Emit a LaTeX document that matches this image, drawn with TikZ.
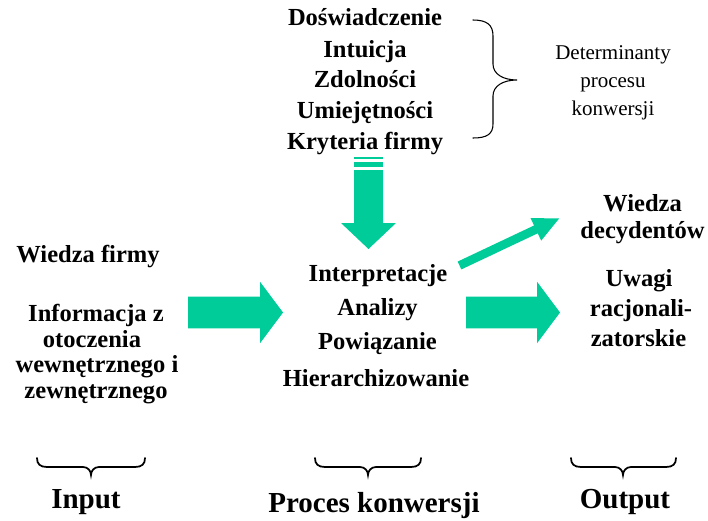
\documentclass[tikz,border=0pt]{standalone}
\usepackage{fontspec}
\setmainfont{Liberation Serif}
\usetikzlibrary{arrows.meta}
\definecolor{flow}{RGB}{0,204,153}
\tikzset{
  bold/.style={font=\fontsize{18.4}{22}\selectfont\bfseries, anchor=base, inner sep=0pt},
  plain/.style={font=\fontsize{15.75}{19}\selectfont, anchor=base, inner sep=0pt},
  caption/.style={font=\fontsize{21.75}{26}\selectfont\bfseries, anchor=base, inner sep=0pt},
  bottom brace/.style={line width=1.3pt, line cap=round},
  side brace/.style={line width=0.8pt, line cap=round},
}
% horizontal brace opening upwards: left end, right end, tip
\newcommand\bracebelow[3]{%
  \draw[bottom brace] (#1,458) .. controls (#1,464) and (#1+3,467) .. (#1+10,467)
    -- (#3-8,467) .. controls (#3-3,467) and (#3,471) .. (#3,475)
    .. controls (#3,471) and (#3+3,467) .. (#3+8,467)
    -- (#2-10,467) .. controls (#2-3,467) and (#2,464) .. (#2,458);}
% block arrow pointing right: tail x, head start x, tip x, axis y
\newcommand\blockarrow[4]{%
  \fill[flow] (#1,#4-15.8) -- (#2,#4-15.8) -- (#2,#4-30.8) -- (#3,#4)
    -- (#2,#4+30.8) -- (#2,#4+15.8) -- (#1,#4+15.8) -- cycle;}
\begin{document}
\begin{tikzpicture}[x=0.75pt,y=-0.75pt]
\useasboundingbox (0,0) rectangle (708,521);

% determinants of the conversion process
\node[bold] (d1) at (365,26) {Doświadczenie};
\node[bold] (d2) at (365,57) {Intuicja};
\node[bold] (d3) at (365,87.5) {Zdolności};
\node[bold] (d4) at (365,118) {Umiejętności};
\node[bold] (d5) at (365,149) {Kryteria firmy};

\draw[side brace] (473,20) .. controls (487,20) and (493,25) .. (493,36)
  -- (493,64) .. controls (493,74) and (503,80) .. (517,80)
  .. controls (503,80) and (493,86) .. (493,96)
  -- (493,124) .. controls (493,134) and (487,138) .. (473,138);
\node[plain] (det1) at (613,60) {Determinanty};
\node[plain] (det2) at (613,87.5) {procesu};
\node[plain] (det3) at (613,115.5) {konwersji};

% striped arrow pointing down into the process
\fill[flow] (354,156.7) rectangle (383,159.3);
\fill[flow] (354,161.7) rectangle (383,167.3);
\fill[flow] (354,170) -- (383,170) -- (383,223) -- (396,223) -- (368.5,249)
  -- (341,223) -- (354,223) -- cycle;

% input
\node[bold] (in0) at (88,262) {Wiedza firmy};
\node[bold] (in1) at (96,321.5) {Informacja z};
\node[bold] (in2) at (92,347.5) {otoczenia};
\node[bold] (in3) at (97,372.5) {wewnętrznego i};
\node[bold] (in4) at (96,398) {zewnętrznego};

% conversion process
\node[bold] (p1) at (378,281) {Interpretacje};
\node[bold] (p2) at (377.5,315) {Analizy};
\node[bold] (p3) at (377.5,349) {Powiązanie};
\node[bold] (p4) at (376,386) {Hierarchizowanie};

% output
\node[bold] (o1) at (642.5,211.7) {Wiedza};
\node[bold] (o2) at (642.5,238) {decydentów};
\node[bold] (o3) at (639,286.3) {Uwagi};
\node[bold] (o4) at (641,316.3) {racjonali-};
\node[bold] (o5) at (638.5,346.7) {zatorskie};

% flow arrows
\blockarrow{188}{260}{283}{312.5}
\blockarrow{466}{537}{560}{312.5}
\coordinate (diagS) at (459.5,265.5);
\coordinate (diagE) at (560,218);
\draw[flow, line width=6.5pt, -{Triangle[length=20pt,width=17pt]}] (diagS) -- (diagE);

% braces and captions
\bracebelow{37}{145}{91}
\bracebelow{315}{421}{368}
\bracebelow{571}{676}{623}
\node[caption] (c1) at (86,508) {Input};
\node[caption] (c2) at (374,512) {Proces konwersji};
\node[caption] (c3) at (625,508) {Output};
\end{tikzpicture}
\end{document}
